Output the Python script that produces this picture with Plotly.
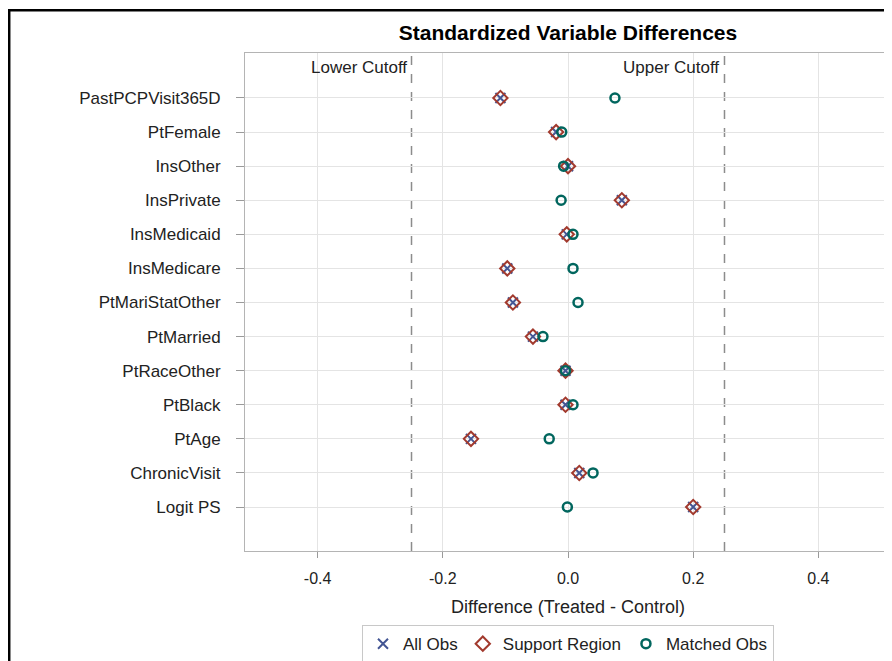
import plotly.graph_objects as go

variables = ["PastPCPVisit365D", "PtFemale", "InsOther", "InsPrivate", "InsMedicaid",
             "InsMedicare", "PtMariStatOther", "PtMarried", "PtRaceOther", "PtBlack",
             "PtAge", "ChronicVisit", "Logit PS"]
all_obs = [-0.108, -0.019, 0.000, 0.086, -0.002, -0.097, -0.088, -0.056, -0.004, -0.004,
           -0.155, 0.018, 0.200]
support_region = [-0.108, -0.019, 0.000, 0.086, -0.002, -0.097, -0.088, -0.056, -0.004, -0.004,
                  -0.155, 0.018, 0.200]
matched_obs = [0.075, -0.010, -0.007, -0.011, 0.008, 0.008, 0.016, -0.040, -0.004, 0.008,
               -0.030, 0.040, -0.001]
cutoffs = [-0.25, 0.25]
cutoff_labels = ["Lower Cutoff", "Upper Cutoff"]
x_ticks = [-0.4, -0.2, 0.0, 0.2, 0.4]

FONT = "Liberation Sans, Arial, sans-serif"
TXT = "#222222"

fig = go.Figure()
fig.add_trace(go.Scatter(
    x=all_obs, y=variables, mode="markers", name="All Obs",
    marker=dict(symbol="x-thin-open", size=10, color="#445694",
                line=dict(color="#445694", width=2))))
fig.add_trace(go.Scatter(
    x=support_region, y=variables, mode="markers", name="Support Region",
    marker=dict(symbol="diamond-open", size=11, color="#A23A2E",
                line=dict(color="#A23A2E", width=2))))
fig.add_trace(go.Scatter(
    x=matched_obs, y=variables, mode="markers", name="Matched Obs",
    marker=dict(symbol="circle-open", size=9, color="#01665E",
                line=dict(color="#01665E", width=2.5))))

shapes = []
for c in cutoffs:
    shapes.append(dict(type="line", xref="x", yref="paper", x0=c, x1=c, y0=0, y1=1,
                       line=dict(color="#8c8c8c", width=1.5, dash="dash"), layer="below"))
# outer black frame
shapes.append(dict(type="rect", xref="paper", yref="paper",
                   x0=-0.365, x1=1.2, y0=-0.35, y1=1.086,
                   line=dict(color="black", width=2.5), fillcolor="rgba(0,0,0,0)"))

annotations = []
for c, lab in zip(cutoffs, cutoff_labels):
    annotations.append(dict(x=c, y=0.97, xref="x", yref="paper", text=lab,
                            showarrow=False, xanchor="right", yanchor="middle", xshift=-3,
                            font=dict(family=FONT, size=17, color=TXT)))

fig.update_layout(
    width=884, height=653,
    margin=dict(l=237, r=1, t=45, b=110, autoexpand=False),
    paper_bgcolor="white", plot_bgcolor="white",
    title=dict(text="<b>Standardized Variable Differences</b>", x=0.5, xref="paper",
               xanchor="center", y=1 - 25 / 653, yanchor="middle",
               font=dict(family=FONT, size=21, color="black")),
    font=dict(family=FONT, size=16, color=TXT),
    shapes=shapes, annotations=annotations,
    legend=dict(orientation="h", x=0.5, xanchor="center", y=-0.187, yanchor="middle",
                bordercolor="#c8c8c8", borderwidth=1, font=dict(family=FONT, size=17, color=TXT),
                itemwidth=30, tracegroupgap=0),
    showlegend=True,
)
fig.update_xaxes(range=[-0.516, 0.516], tickvals=x_ticks, ticktext=["-0.4", "-0.2", "0.0", "0.2", "0.4"],
                 showgrid=True, gridcolor="#e4e4e4", gridwidth=1, zeroline=False,
                 showline=True, linecolor="#b4b4b4", linewidth=1, mirror=True,
                 ticks="outside", ticklen=6, tickcolor="#9a9a9a", ticklabelstandoff=7,
                 tickfont=dict(family=FONT, size=16, color=TXT), automargin=False,
                 title=dict(text="Difference (Treated - Control)", standoff=14,
                            font=dict(family=FONT, size=18, color=TXT)))
fig.update_yaxes(type="category", categoryorder="array", categoryarray=variables,
                 range=[13.29, -1.32], automargin=False,
                 showgrid=True, gridcolor="#e4e4e4", gridwidth=1, zeroline=False,
                 showline=True, linecolor="#b4b4b4", linewidth=1, mirror=True,
                 ticks="outside", ticklen=8, tickcolor="#9a9a9a", ticklabelstandoff=12,
                 tickfont=dict(family=FONT, size=17, color=TXT))

fig.write_html("out.html")
